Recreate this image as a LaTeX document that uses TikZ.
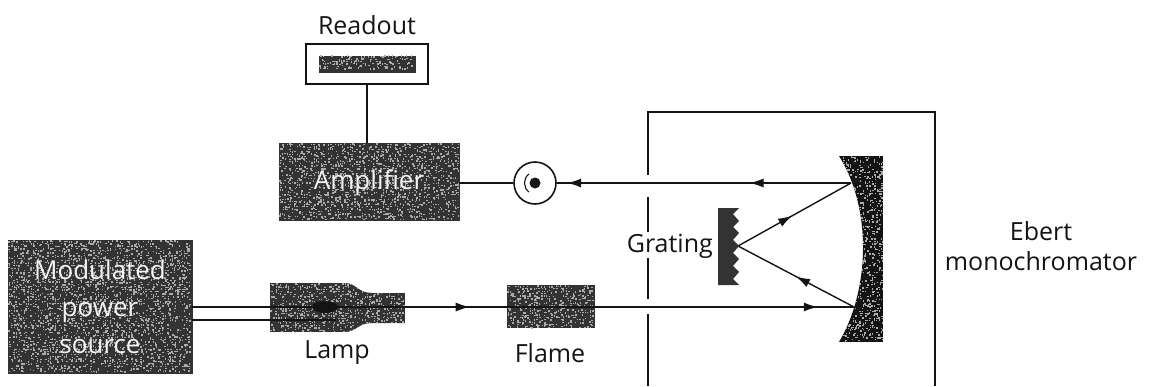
\documentclass[tikz,border=0pt]{standalone}
\usepackage{fontspec}
\setmainfont{Open Sans}
\usetikzlibrary{arrows.meta,decorations.markings,shapes.geometric}
\definecolor{ink}{HTML}{141414}
\definecolor{grainbase}{HTML}{333333}
\definecolor{grainlight}{HTML}{ABABAB}
\newcommand{\grain}[4]{%
  \pgfmathtruncatemacro{\gw}{#3-#1}\pgfmathtruncatemacro{\gh}{#4-#2}%
  \foreach \gx in {0,2.4,...,\gw}{\foreach \gy in {0,2.4,...,\gh}{%
    \pgfmathsetmacro{\gr}{rnd}%
    \ifdim\gr pt>0.5pt
      \pgfmathsetmacro{\gdx}{#1+\gx+1.5*rnd}\pgfmathsetmacro{\gdy}{#2+\gy+1.5*rnd}%
      \fill[grainlight] (\gdx,\gdy) rectangle ++(1.5,1.5);
    \fi}}}
\tikzset{
  x=1pt,y=-1pt,
  wire/.style={draw=ink,line width=1.4pt},
  grainbox/.style={rectangle,fill=grainbase,draw=grainbase,inner sep=0pt},
  lbl/.style={text=ink,font=\fontsize{25}{30}\selectfont,inner sep=0pt},
  inlbl/.style={text=white!85!grainlight,font=\fontsize{26}{37}\selectfont,inner sep=0pt,align=center},
  tipat/.style={postaction={decorate,decoration={markings,mark=at position #1 with {\arrow{Latex[length=14pt,width=9pt]}}}}},
}
\begin{document}
\begin{tikzpicture}
\pgfmathsetseed{4711}
\useasboundingbox (0,0) rectangle (1149,386);
\fill[white] (0,0) rectangle (1149,386);

% monochromator housing
\draw[wire] (648,175) -- (648,112) -- (935,112) -- (935,386);
\draw[wire] (648,197) -- (648,232);
\draw[wire] (648,258) -- (648,299);
\draw[wire] (648,314) -- (648,386);

% named reference points
\coordinate (mirU) at (851,183);
\coordinate (mirL) at (854,307);
\coordinate (grApex) at (738,246);

% power source
\node[grainbox,minimum width=184pt,minimum height=133pt,anchor=north west] (power) at (8,240) {};
\grain{8}{240}{190}{371}
\node[inlbl] (powertext) at (100,307) {Modulated\\power\\source};

% amplifier
\node[grainbox,minimum width=180pt,minimum height=77pt,anchor=north west] (amp) at (279,143) {};
\grain{279}{143}{457}{218}
\node[inlbl] (amptext) at (369,183) {Amplifier};

% readout
\node[rectangle,draw=ink,line width=1.8pt,fill=white,minimum width=122pt,minimum height=40pt,anchor=north west] (readout) at (305,43) {};
\node[grainbox,minimum width=96pt,minimum height=16pt] (display) at (readout.center) {};
\grain{319}{55}{412}{67}
\node[lbl] (readoutlabel) at (367,25) {Readout};
\draw[wire] (readout.south) -- (readout.south |- amp.north);

% detector
\node[circle,draw=ink,line width=1.6pt,fill=white,minimum size=42pt,inner sep=0pt] (det) at (535,183) {};
\node[circle,fill=ink,minimum size=11pt,inner sep=0pt] (detdot) at (det.center) {};
\draw[line width=1.1pt,ink] (529,174) .. controls (523,178) and (523,188) .. (529,192);
\draw[wire] (amp.east |- det.west) -- (det.west);

% lamp
\begin{scope}
  \path[clip] (270,283) -- (345,283) .. controls (356,283) and (358,293) .. (372,293) -- (405,293) -- (405,323) -- (372,323) .. controls (358,323) and (356,332) .. (345,332) -- (270,332) -- cycle;
  \fill[grainbase] (270,283) rectangle (405,332);
  \grain{270}{283}{404}{331}
\end{scope}
\node[ellipse,fill=ink,minimum width=26pt,minimum height=12pt,inner sep=0pt] (bulb) at (325,307) {};
\draw[wire] (power.east |- bulb) -- (bulb);
\coordinate (lowEnd) at (336,320);
\draw[wire] (power.east |- lowEnd) -- (lowEnd);
\node[lbl] (lamplabel) at (337,353) {Lamp};

% flame
\node[grainbox,minimum width=87pt,minimum height=42pt,anchor=north west] (flame) at (507,285) {};
\grain{507}{285}{593}{326}
\node[lbl] (flamelabel) at (550,353) {Flame};

% optical path
\draw[wire,tipat=0.255,tipat=0.93] (bulb.east) -- (mirL);
\draw[wire,tipat=0.5] (mirL) -- (grApex);
\draw[wire,tipat=0.48] (grApex) -- (mirU);
\draw[wire,tipat=0.345,tipat=0.965] (mirU) -- (det.east);

% grating
\path[fill=grainbase] (718,208) -- (739,208) -- (733,214) -- (739,221) -- (733,227) -- (739,233) -- (733,240) -- (739,246) -- (733,253) -- (739,259) -- (733,266) -- (739,272) -- (733,279) -- (739,285) -- (718,285) -- cycle;
\node[lbl,anchor=east] (gratinglabel) at (713,246) {Grating};

% Ebert mirror
\begin{scope}
  \path[clip] (839,156) -- (883,156) -- (883,342) -- (839,342) .. controls (870,290) and (872,208) .. (839,156) -- cycle;
  \fill[ink] (835,156) rectangle (883,342);
  \grain{835}{156}{881}{341}
\end{scope}

% side label
\node[lbl,align=center,font=\fontsize{25}{30}\selectfont] (ebert) at (1041,246) {Ebert\\monochromator};
\end{tikzpicture}
\end{document}
